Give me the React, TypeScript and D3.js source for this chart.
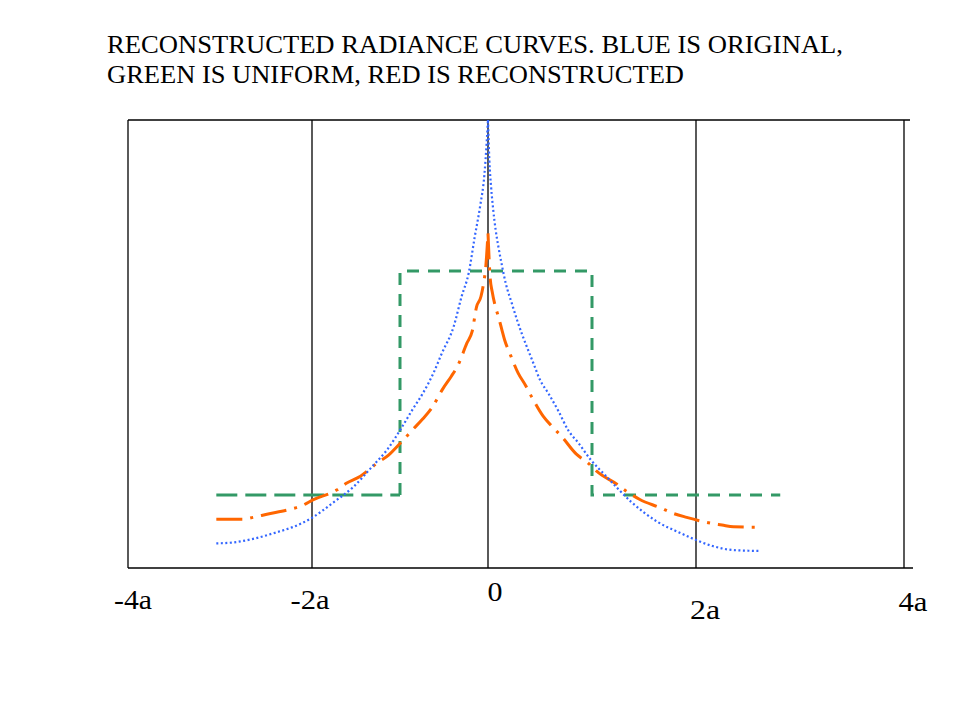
import * as d3 from 'd3';

// tick positions along x (in units of a) and their labels
const xTicks = [-4, -2, 0, 2, 4];
const xTickLabels = ['-4a', '-2a', '0', '2a', '4a'];
// labels in the original sit a little off their ticks
const labelNudge = [[5, 41], [-2, 41], [7, 33], [9, 51], [9, 43]];
const labelWidth = [38, 39, 15, 30, 29];

const titleLines = [
    'RECONSTRUCTED RADIANCE CURVES. BLUE IS ORIGINAL,',
    'GREEN IS UNIFORM, RED IS RECONSTRUCTED',
];

// blue: original radiance (x in a, relative height)
const originalLeft: [number, number][] = [
    [-3.04, 0.055], [-2.86, 0.057], [-2.64, 0.065], [-2.38, 0.08], [-2.2, 0.092],
    [-2.0, 0.112], [-1.76, 0.146], [-1.53, 0.181], [-1.3, 0.23], [-1.15, 0.263],
    [-0.97, 0.317], [-0.86, 0.353], [-0.74, 0.39], [-0.62, 0.435], [-0.525, 0.479],
    [-0.39, 0.539], [-0.3, 0.606], [-0.22, 0.658], [-0.15, 0.74], [-0.09, 0.807],
    [-0.04, 0.88], [-0.015, 0.95], [0, 1.0],
];
const originalRight: [number, number][] = [
    [0, 1.0], [0.013, 0.91], [0.03, 0.85], [0.05, 0.8], [0.074, 0.754], [0.1, 0.717],
    [0.13, 0.68], [0.17, 0.636], [0.23, 0.59], [0.28, 0.553], [0.33, 0.52],
    [0.38, 0.49], [0.44, 0.455], [0.5, 0.42], [0.58, 0.39], [0.68, 0.349],
    [0.77, 0.308], [0.87, 0.279], [0.99, 0.241], [1.14, 0.204], [1.38, 0.147],
    [1.63, 0.103], [1.85, 0.078], [2.0, 0.0625], [2.16, 0.049], [2.36, 0.04],
    [2.62, 0.038],
];

// red: reconstructed radiance
const reconstructed: [number, number][] = [
    [-3.04, 0.109], [-2.75, 0.109], [-2.64, 0.113], [-2.49, 0.12], [-2.24, 0.131],
    [-2.1, 0.14], [-1.99, 0.152], [-1.72, 0.174], [-1.61, 0.189], [-1.45, 0.205],
    [-1.26, 0.234], [-1.13, 0.252], [-1.0, 0.278], [-0.85, 0.31], [-0.74, 0.333],
    [-0.64, 0.357], [-0.51, 0.401], [-0.42, 0.427], [-0.34, 0.453], [-0.24, 0.502],
    [-0.18, 0.528], [-0.13, 0.583], [-0.08, 0.606], [-0.05, 0.636], [-0.025, 0.673],
    [0, 0.747],
    [0.02, 0.65], [0.04, 0.617], [0.067, 0.587], [0.1, 0.561], [0.13, 0.535],
    [0.16, 0.509], [0.21, 0.479], [0.29, 0.435], [0.36, 0.408], [0.42, 0.382],
    [0.53, 0.339], [0.62, 0.315], [0.71, 0.293], [0.85, 0.254], [0.96, 0.235],
    [1.05, 0.215], [1.24, 0.187], [1.34, 0.17], [1.46, 0.153], [1.65, 0.135],
    [1.78, 0.122], [1.91, 0.113], [2.12, 0.101], [2.25, 0.096], [2.36, 0.092],
    [2.62, 0.091],
];

// green: uniform step
const uniformTail: [number, number][] = [[-3.04, 0.163], [-1, 0.163]];
const uniformStep: [number, number][] = [
    [-1, 0.163], [-1, 0.663], [1, 0.663], [1, 0.163], [2.81, 0.163],
];

export default function App() {
    // the gridlines in the original are not evenly spaced
    const x = d3.scaleLinear().domain(xTicks).range([128, 312, 488, 696, 904]);
    const y = d3.scaleLinear().domain([0, 1]).range([568, 120]);

    const smooth = d3.line<[number, number]>()
        .x(d => x(d[0]))
        .y(d => y(d[1]))
        .curve(d3.curveMonotoneX);
    const straight = d3.line<[number, number]>()
        .x(d => x(d[0]))
        .y(d => y(d[1]));

    const redLeft = reconstructed.filter(d => d[0] <= 0);
    const redRight = reconstructed.filter(d => d[0] >= 0);

    return (
        <svg width={959} height={719} style={{ position: 'absolute', left: 0, top: 0, background: '#fff' }}
            fontFamily="'Liberation Serif', 'Times New Roman', serif">
            {titleLines.map((t, i) => (
                <text key={i} x={107} y={53 + i * 29.5} fontSize={25}
                    textLength={i === 0 ? 736 : 577} lengthAdjust="spacingAndGlyphs">{t}</text>
            ))}

            {/* frame and gridlines */}
            <line x1={x(-4)} x2={910} y1={y(1)} y2={y(1)} stroke="#000" strokeWidth={1.3} />
            <line x1={x(-4)} x2={913} y1={y(0)} y2={y(0)} stroke="#000" strokeWidth={1.3} />
            {xTicks.map(t => (
                <line key={t} x1={x(t)} x2={x(t)} y1={y(1)} y2={y(0)} stroke="#000" strokeWidth={1.3} />
            ))}

            {xTickLabels.map((l, i) => (
                <text key={l} x={x(xTicks[i]) + labelNudge[i][0] - labelWidth[i] / 2} y={y(0) + labelNudge[i][1]}
                    fontSize={27} textLength={labelWidth[i]} lengthAdjust="spacingAndGlyphs">{l}</text>
            ))}

            <path d={straight(uniformTail) ?? ''} fill="none" stroke="#339966" strokeWidth={3}
                strokeDasharray="21,8" />
            <path d={straight(uniformStep) ?? ''} fill="none" stroke="#339966" strokeWidth={3}
                strokeDasharray="12,9" />

            <path d={(smooth(redLeft) ?? '') + (smooth(redRight) ?? '')} fill="none" stroke="#ff6600"
                strokeWidth={3} strokeDasharray="26,8,3,8" />

            <path d={(smooth(originalLeft) ?? '') + (smooth(originalRight) ?? '')} fill="none"
                stroke="#3366ff" strokeWidth={2.2} strokeDasharray="2,2.5" />
        </svg>
    );
}
